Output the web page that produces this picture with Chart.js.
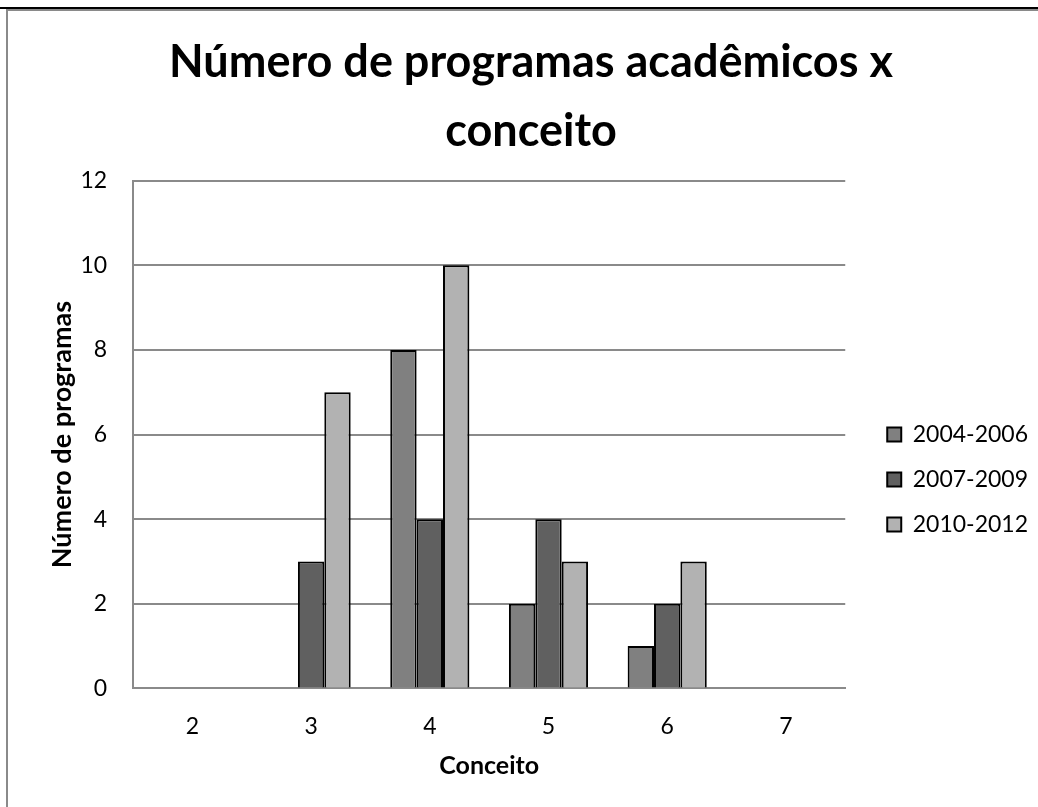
<!DOCTYPE html>
<html>
<head>
<meta charset="utf-8">
<script src="https://cdn.jsdelivr.net/npm/chart.js@4.4.1/dist/chart.umd.min.js"></script>
<style>
  body { margin: 0; background: #fff; }
  #wrap { position: relative; width: 1038px; height: 807px; }
  #frameTop { position: absolute; left: 0; top: 7px; width: 1038px; height: 2px; background: #000; }
  #frameIn { position: absolute; left: 6px; top: 9px; width: 1032px; height: 798px;
             border-top: 2px solid #8a8a8a; border-left: 2px solid #8a8a8a; box-sizing: border-box; }
</style>
</head>
<body>
<div id="wrap">
  <canvas id="myChart" width="1038" height="807"></canvas>
  <div id="frameTop"></div>
  <div id="frameIn"></div>
</div>
<script>
const categories = ["2", "3", "4", "5", "6", "7"];
const series2004 = [0, 0, 8, 2, 1, 0];
const series2007 = [0, 3, 4, 4, 2, 0];
const series2010 = [0, 7, 10, 3, 3, 0];
const seriesNames = ["2004-2006", "2007-2009", "2010-2012"];
const yTicks = [0, 2, 4, 6, 8, 10, 12];

const fontFam = "Lato, 'Open Sans', sans-serif";

// nudge the legend right and down, like the Excel original
const legendShift = {
    id: "legendShift",
    afterLayout(chart) {
        const lg = chart.legend;
        if (lg) {
            lg.left += 20; lg.right += 20;
            lg.top += 75; lg.bottom += 75;
        }
    }
};

new Chart("myChart", {
    type: "bar",
    data: {
        labels: categories,
        datasets: [
            { label: seriesNames[0], data: series2004, backgroundColor: "#808080" },
            { label: seriesNames[1], data: series2007, backgroundColor: "#606060" },
            { label: seriesNames[2], data: series2010, backgroundColor: "#b2b2b2" }
        ].map(d => Object.assign(d, {
            borderColor: "#000", borderWidth: 2,
            categoryPercentage: 3 / 4.5, barPercentage: 1.0
        }))
    },
    plugins: [legendShift],
    options: {
        responsive: false,
        animation: false,
        layout: { padding: { left: 44, right: 20, top: 28, bottom: 26 } },
        plugins: {
            title: {
                display: true,
                text: ["Número de programas acadêmicos x", "conceito"],
                color: "#000",
                font: { family: fontFam, size: 45, weight: "bold", lineHeight: 1.53 },
                padding: { top: 0, bottom: 15 }
            },
            legend: {
                position: "right",
                labels: {
                    boxWidth: 14, boxHeight: 14, padding: 22,
                    color: "#000",
                    font: { family: fontFam, size: 23 }
                }
            },
            tooltip: { enabled: false }
        },
        scales: {
            x: {
                grid: { display: false, drawTicks: false },
                border: { display: true, color: "#8a8a8a", width: 2 },
                ticks: { color: "#000", padding: 24, font: { family: fontFam, size: 23 } },
                title: { display: true, text: "Conceito", color: "#000",
                         font: { family: fontFam, size: 25, weight: "bold" }, padding: { top: -13, bottom: 0 } }
            },
            y: {
                min: yTicks[0], max: yTicks[yTicks.length - 1],
                afterBuildTicks(scale) { scale.ticks = yTicks.map(v => ({ value: v })); },
                ticks: { color: "#000", padding: 26, font: { family: fontFam, size: 23 } },
                grid: { color: "#8a8a8a", lineWidth: 2, drawTicks: false },
                border: { display: true, color: "#8a8a8a", width: 2 },
                title: { display: true, text: "Número de programas", color: "#000",
                         font: { family: fontFam, size: 27, weight: "bold" }, padding: { top: 2, bottom: -24 } }
            }
        }
    }
});
</script>
</body>
</html>
